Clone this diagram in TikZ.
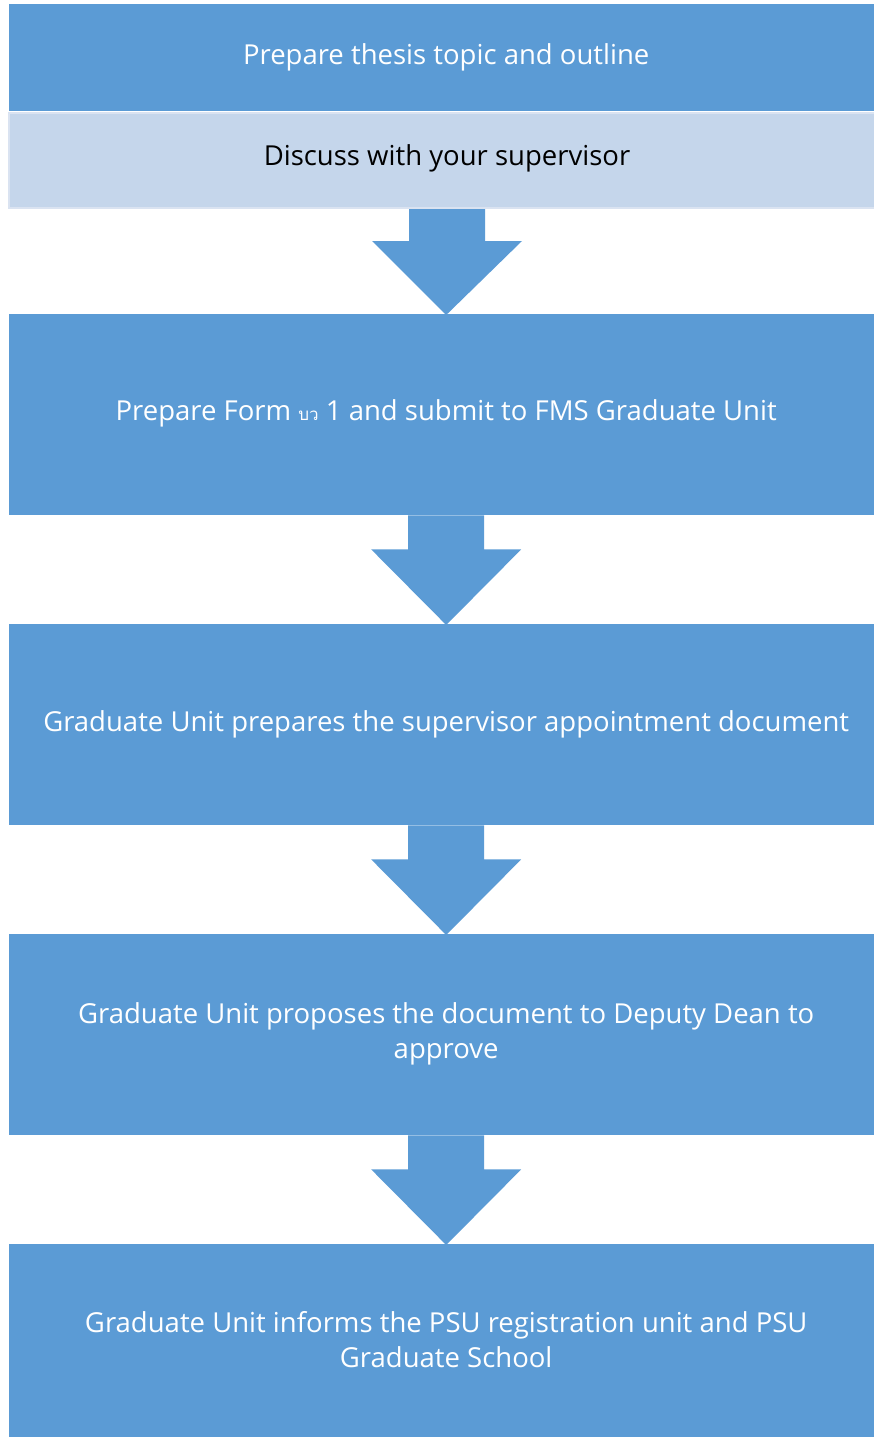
\documentclass[tikz,border=0pt]{standalone}
\usepackage{fontspec}
\setmainfont{Open Sans}
\newfontfamily\thaifont[Script=Thai]{Loma}
\usetikzlibrary{calc}
\definecolor{boxblue}{HTML}{5B9BD5}
\definecolor{lightblue}{HTML}{C5D6EB}
\definecolor{lightedge}{HTML}{DAE3F1}
\tikzset{
  stepbox/.style={fill=boxblue, draw=none, anchor=north west, minimum width=874pt,
    text=white, align=center, inner sep=0pt, font=\fontsize{27.5}{35}\selectfont},
  subbox/.style={fill=lightblue, draw=lightedge, line width=2pt, anchor=north west,
    minimum width=876pt, minimum height=95pt, text=black, align=center, inner sep=0pt,
    font=\fontsize{27.5}{35}\selectfont},
  flowarrow/.style={fill=boxblue, draw=none}
}
\newcommand{\lift}[2]{\raisebox{#1}[\height][\depth]{#2}}
\newcommand{\bigarrow}[3]{%
  \fill[flowarrow]
    ($(#1.south)+(-38,0)$) -- ($(#1.south)+(38,0)$) --
    ($(#1.south)+(38,#3)$) -- ($(#1.south)+(75,#3)$) --
    ($(#2.north)+(0,1)$) --
    ($(#1.south)+(-75,#3)$) -- ($(#1.south)+(-38,#3)$) -- cycle;}
\begin{document}
\begin{tikzpicture}[x=1pt,y=-1pt]
\useasboundingbox (0,0) rectangle (873,1437);
\node[stepbox, minimum height=107pt] (b1) at (9,4) {Prepare thesis topic and outline};
\node[subbox] (sub) at (8,112) {\lift{2pt}{Discuss with your supervisor}};
\node[stepbox, minimum height=201pt] (b2) at (9,314) {\lift{1.5pt}{Prepare Form {\thaifont\fontsize{17}{20}\selectfont บว} 1 and submit to FMS Graduate Unit}};
\node[stepbox, minimum height=201pt] (b3) at (9,624) {\lift{0.5pt}{Graduate Unit prepares the supervisor appointment document}};
\node[stepbox, minimum height=201pt] (b4) at (9,934) {\lift{0.5pt}{\parbox{860pt}{\centering Graduate Unit proposes the document to Deputy Dean to\\approve}}};
\node[stepbox, minimum height=200pt] (b5) at (9,1244) {\lift{4.5pt}{\parbox{860pt}{\centering Graduate Unit informs the PSU registration unit and PSU\\Graduate School}}};
\bigarrow{sub}{b2}{32}
\bigarrow{b2}{b3}{34}
\bigarrow{b3}{b4}{34}
\bigarrow{b4}{b5}{34}
\end{tikzpicture}
\end{document}
